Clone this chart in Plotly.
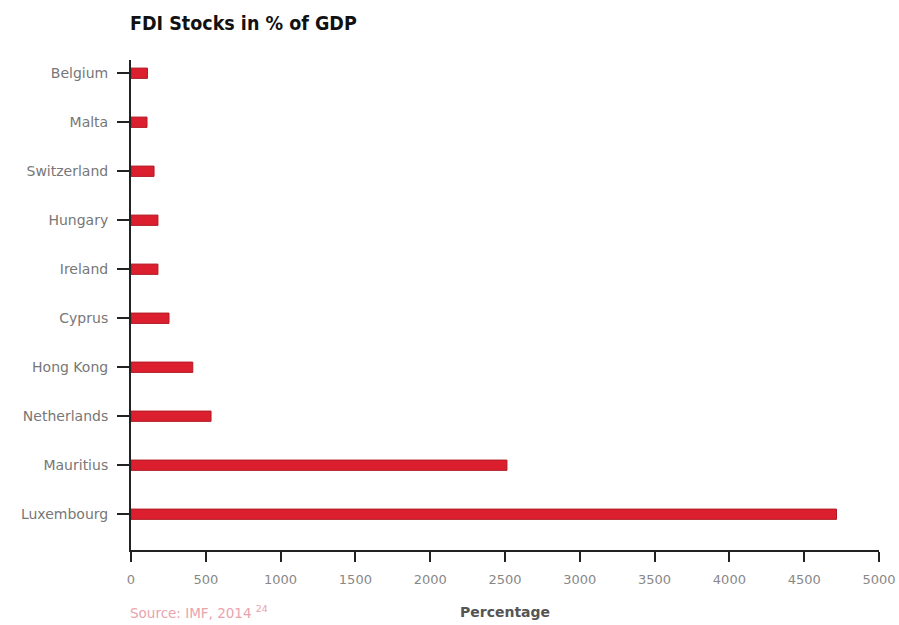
import plotly.graph_objects as go

countries = ["Luxembourg", "Mauritius", "Netherlands", "Hong Kong", "Cyprus",
             "Ireland", "Hungary", "Switzerland", "Malta", "Belgium"]
values = [4716, 2513, 535, 413, 254, 180, 180, 154, 107, 110]
x_ticks = [0, 500, 1000, 1500, 2000, 2500, 3000, 3500, 4000, 4500, 5000]

fig = go.Figure(go.Bar(
    y=countries, x=values, orientation="h", width=0.21,
    marker=dict(color="#dc1f2e", line=dict(color="#b01a24", width=1)),
))

fig.update_layout(
    width=899, height=625,
    paper_bgcolor="white", plot_bgcolor="white",
    margin=dict(l=131, r=20, t=60, b=75),
    showlegend=False,
    font=dict(family="DejaVu Sans", color="#777777", size=13),
    title=dict(text="<b>FDI Stocks in % of GDP</b>", x=130/899, xanchor="left",
               y=1 - 23/625, yanchor="middle",
               font=dict(family="DejaVu Sans Condensed", size=19.5, color="#111111")),
    bargap=0.8,
)
fig.update_xaxes(range=[0, 5000], tickvals=x_ticks, ticks="outside", ticklen=10,
                 tickwidth=2, tickcolor="#222222", showline=True, linecolor="#222222",
                 linewidth=2, showgrid=False, zeroline=False, automargin=False,
                 ticklabelstandoff=6,
                 tickfont=dict(family="DejaVu Sans", size=13, color="#888888"))
fig.update_yaxes(range=[-0.73, 9.27], ticks="outside", ticklen=12, tickwidth=2,
                 tickcolor="#222222", showline=True, linecolor="#222222",
                 linewidth=2, showgrid=False, categoryorder="array", automargin=False,
                 ticklabelstandoff=6, categoryarray=countries,
                 tickfont=dict(family="DejaVu Sans", size=14, color="#777777"))

fig.add_annotation(text="Source: IMF, 2014 <sup>24</sup>", xref="paper", yref="paper",
                   x=-0.004, y=-62/490, xanchor="left", yanchor="middle",
                   showarrow=False,
                   font=dict(family="DejaVu Sans", size=13.5, color="#e9a3ad"))
fig.add_annotation(text="<b>Percentage</b>", xref="paper", yref="paper",
                   x=(505 - 131) / 748, y=-62/490, xanchor="center", yanchor="middle",
                   showarrow=False,
                   font=dict(family="DejaVu Sans", size=14, color="#555555"))

fig.write_html("out.html", config={"displayModeBar": False},
               post_script="document.body.style.margin='0';document.body.style.overflow='hidden';")
